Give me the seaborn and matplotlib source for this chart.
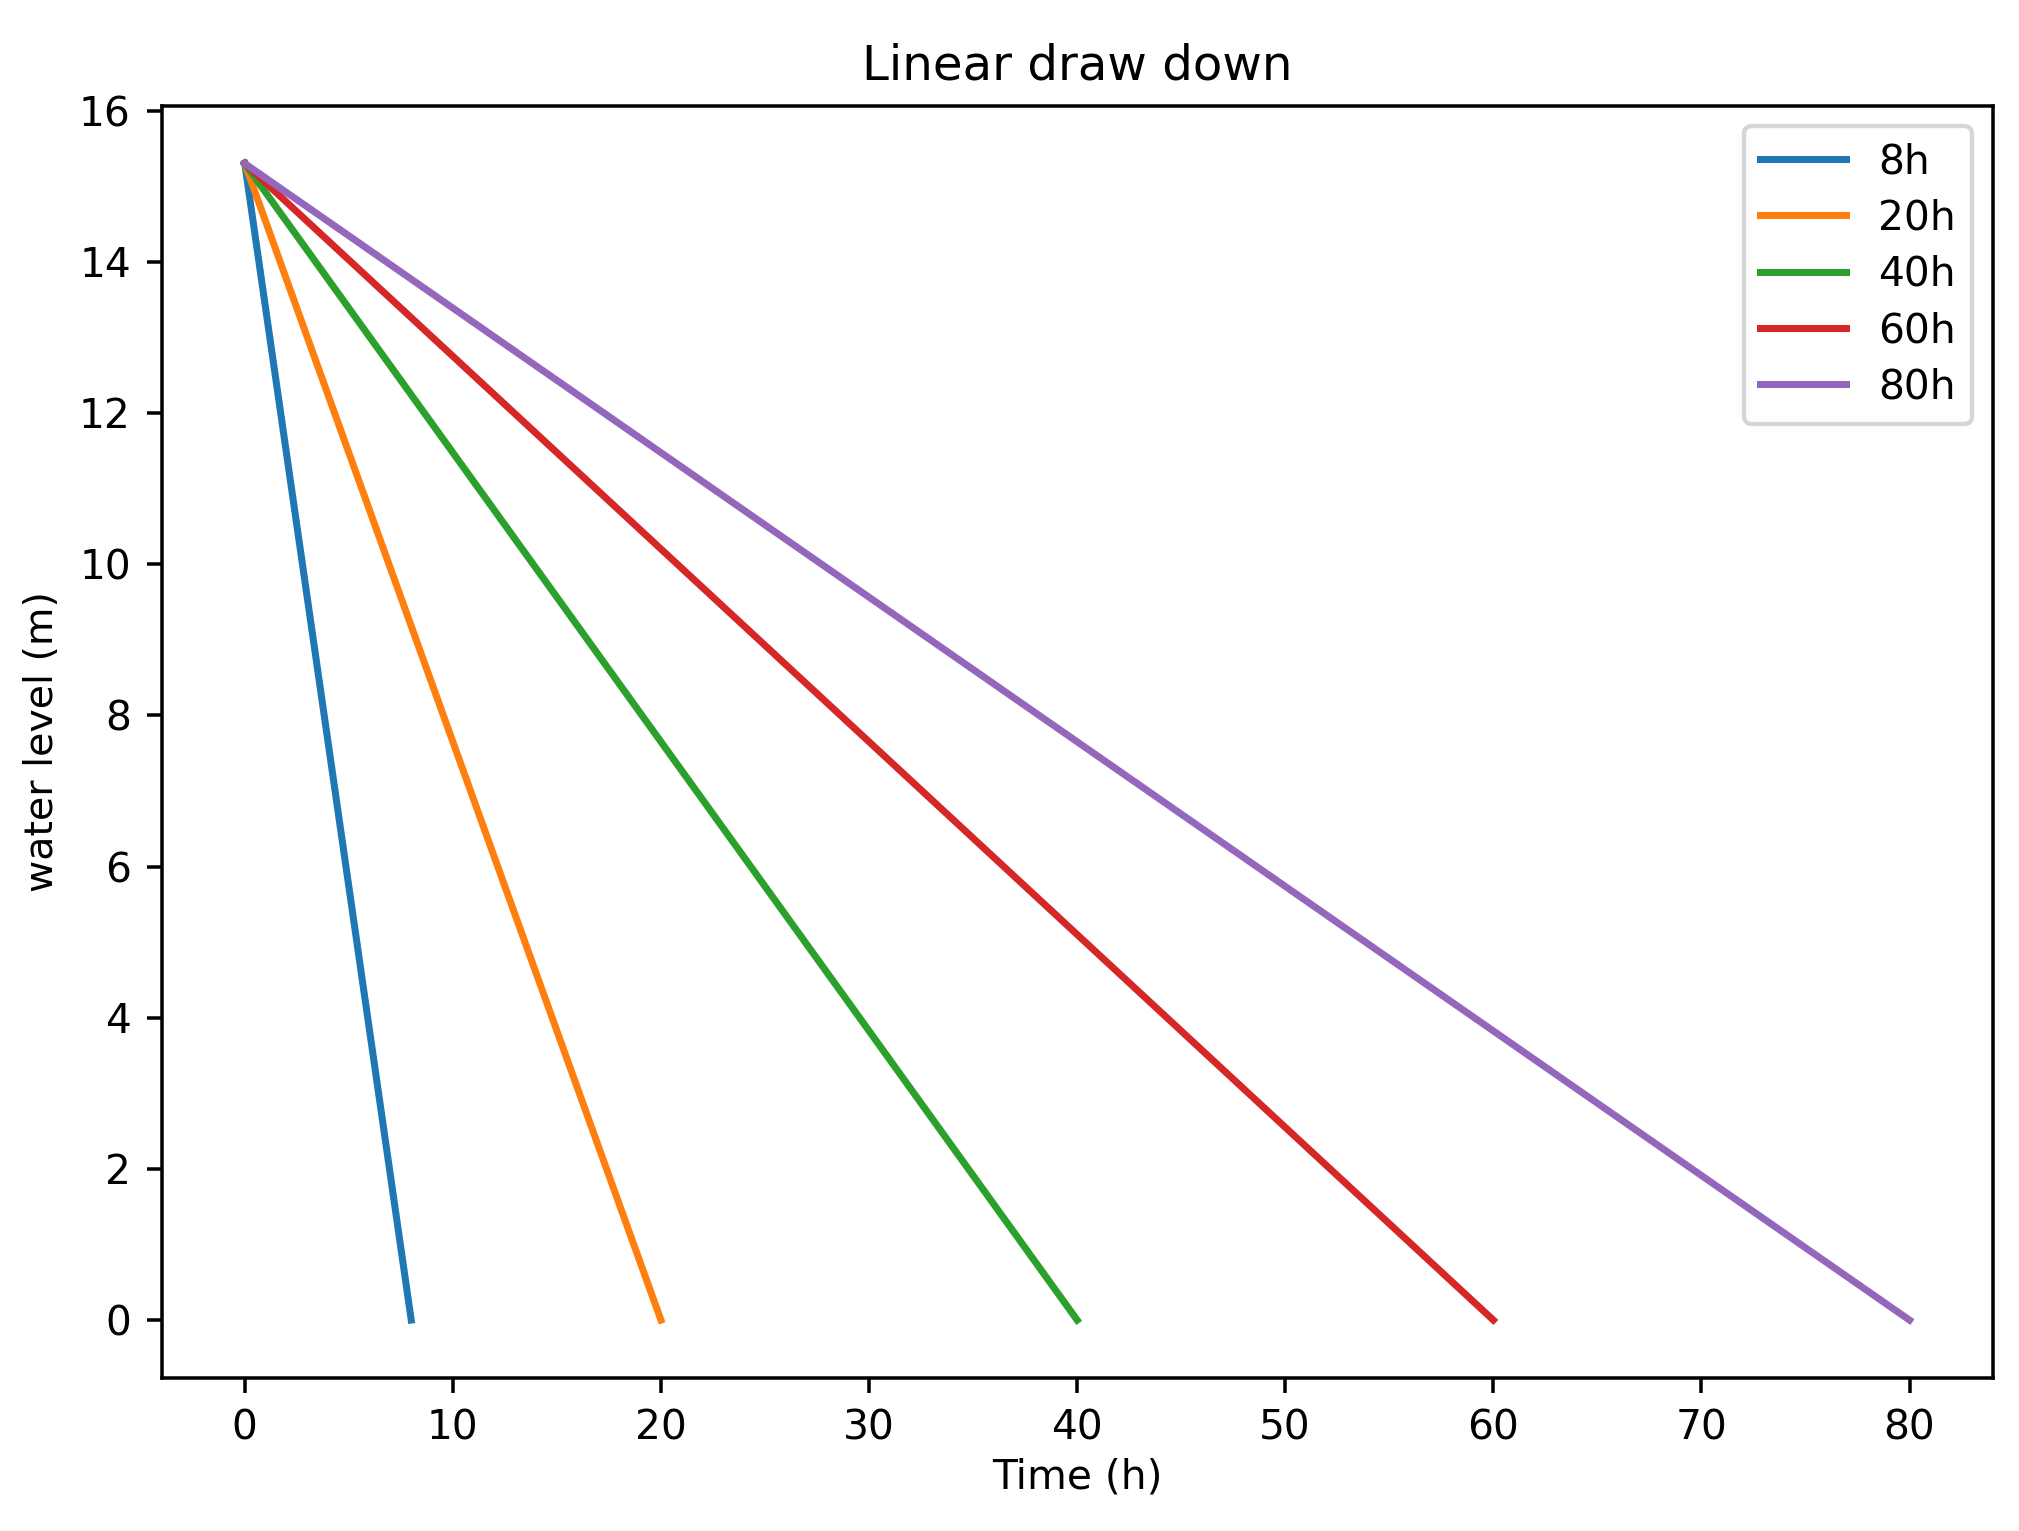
import numpy as np
import matplotlib
matplotlib.use("Agg")
import matplotlib.pyplot as plt
import pandas as pd
import seaborn as sns

# draw down durations (h) and the starting water level (m)
durations = [8, 20, 40, 60, 80]
labels = ['8h', '20h', '40h', '60h', '80h']
start_level = 15.3
end_level = 0.0

rows = []
for d, lab in zip(durations, labels):
    rows.append({'time': 0, 'level': start_level, 'run': lab})
    rows.append({'time': d, 'level': end_level, 'run': lab})
df = pd.DataFrame(rows)

fig, ax = plt.subplots(figsize=(2019 / 315.5, 1531 / 315.5), dpi=315.5)
sns.lineplot(data=df, x='time', y='level', hue='run', hue_order=labels,
             palette='tab10', ax=ax, linewidth=1.6)

ax.set_title('Linear draw down', fontsize=11)
ax.set_xlabel('Time (h)', fontsize=9.3, labelpad=2)
ax.set_ylabel('water level (m)', fontsize=9)
ax.tick_params(labelsize=9.3)
ax.legend(loc='upper right', fontsize=9.3, labelspacing=0.4, handlelength=2.1)

plt.subplots_adjust(left=0.080, right=0.987, top=0.931, bottom=0.100)
plt.savefig('out.png', dpi=315.5)
